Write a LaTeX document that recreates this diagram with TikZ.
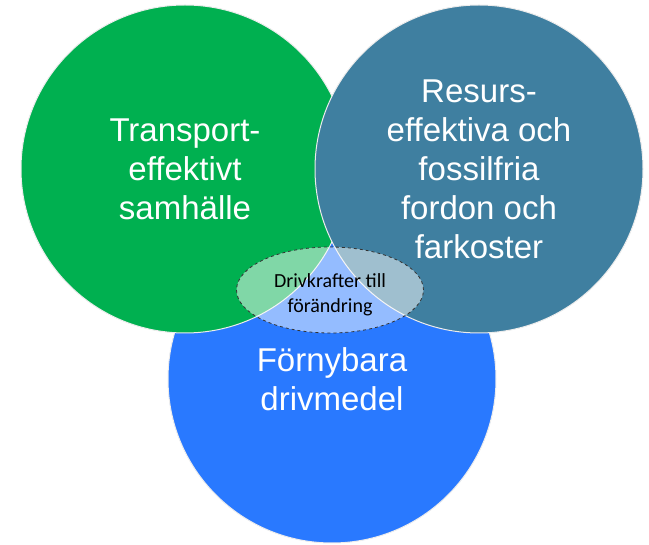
\documentclass[tikz,border=0pt]{standalone}
\usepackage{fontspec}
\setmainfont{Liberation Sans}
\newfontfamily\calibri{Carlito}
\usetikzlibrary{shapes}
\definecolor{green}{RGB}{0,176,80}
\definecolor{steel}{RGB}{63,127,160}
\definecolor{blue}{RGB}{41,121,255}

\begin{document}
\begin{tikzpicture}
    [area/.style={circle, draw=white!85!gray, line width=1pt, minimum size=328pt, inner sep=0pt, text=white, align=center, font=\fontsize{33}{39}\selectfont},
    driver/.style={ellipse, draw=black!80, dashed, line width=0.8pt, fill=white, fill opacity=0.5, text opacity=1, minimum width=187pt, minimum height=86pt, inner sep=0pt, align=center, font=\calibri\fontsize{20}{25}\selectfont},
    x=1pt, y=-1pt]
    \useasboundingbox (0,0) rectangle (649,545);
    %\draw[step=50,gray,very thin] (0,0) grid (649,545);
    \node[area, fill=blue]  (F) at (332, 379) {Förnybara\\drivmedel};
    \node[area, fill=green] (T) at (185, 169) {Transport-\\effektivt\\samhälle};
    \node[area, fill=steel] (R) at (479, 169) {Resurs-\\effektiva och\\fossilfria\\fordon och\\farkoster};
    \node[driver]           (D) at (330, 290) {\rule{0pt}{23pt}Drivkrafter till\\förändring};
\end{tikzpicture}
\end{document}
